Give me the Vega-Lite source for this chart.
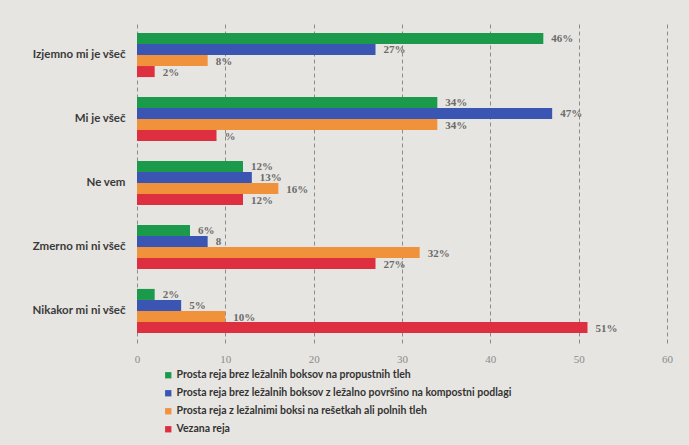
{
  "$schema": "https://vega.github.io/schema/vega-lite/v6.json",
  "width": 530,
  "height": 320,
  "autosize": {"type": "none"},
  "padding": {"left": 137, "top": 23, "right": 22, "bottom": 102},
  "background": "#e7e5e1",
  "config": {
    "view": {"stroke": null},
    "font": "Lato"
  },
  "data": {
    "values": [
      {"cat": "Izjemno mi je všeč", "series": "Prosta reja brez ležalnih boksov na propustnih tleh", "value": 46, "label": "46%"},
      {"cat": "Izjemno mi je všeč", "series": "Prosta reja brez ležalnih boksov z ležalno površino na kompostni podlagi", "value": 27, "label": "27%"},
      {"cat": "Izjemno mi je všeč", "series": "Prosta reja z ležalnimi boksi na rešetkah ali polnih tleh", "value": 8, "label": "8%"},
      {"cat": "Izjemno mi je všeč", "series": "Vezana reja", "value": 2, "label": "2%"},
      {"cat": "Mi je všeč", "series": "Prosta reja brez ležalnih boksov na propustnih tleh", "value": 34, "label": "34%"},
      {"cat": "Mi je všeč", "series": "Prosta reja brez ležalnih boksov z ležalno površino na kompostni podlagi", "value": 47, "label": "47%"},
      {"cat": "Mi je všeč", "series": "Prosta reja z ležalnimi boksi na rešetkah ali polnih tleh", "value": 34, "label": "34%"},
      {"cat": "Mi je všeč", "series": "Vezana reja", "value": 9, "label": "%"},
      {"cat": "Ne vem", "series": "Prosta reja brez ležalnih boksov na propustnih tleh", "value": 12, "label": "12%"},
      {"cat": "Ne vem", "series": "Prosta reja brez ležalnih boksov z ležalno površino na kompostni podlagi", "value": 13, "label": "13%"},
      {"cat": "Ne vem", "series": "Prosta reja z ležalnimi boksi na rešetkah ali polnih tleh", "value": 16, "label": "16%"},
      {"cat": "Ne vem", "series": "Vezana reja", "value": 12, "label": "12%"},
      {"cat": "Zmerno mi ni všeč", "series": "Prosta reja brez ležalnih boksov na propustnih tleh", "value": 6, "label": "6%"},
      {"cat": "Zmerno mi ni všeč", "series": "Prosta reja brez ležalnih boksov z ležalno površino na kompostni podlagi", "value": 8, "label": "8"},
      {"cat": "Zmerno mi ni všeč", "series": "Prosta reja z ležalnimi boksi na rešetkah ali polnih tleh", "value": 32, "label": "32%"},
      {"cat": "Zmerno mi ni všeč", "series": "Vezana reja", "value": 27, "label": "27%"},
      {"cat": "Nikakor mi ni všeč", "series": "Prosta reja brez ležalnih boksov na propustnih tleh", "value": 2, "label": "2%"},
      {"cat": "Nikakor mi ni všeč", "series": "Prosta reja brez ležalnih boksov z ležalno površino na kompostni podlagi", "value": 5, "label": "5%"},
      {"cat": "Nikakor mi ni všeč", "series": "Prosta reja z ležalnimi boksi na rešetkah ali polnih tleh", "value": 10, "label": "10%"},
      {"cat": "Nikakor mi ni všeč", "series": "Vezana reja", "value": 51, "label": "51%"}
    ]
  },
  "encoding": {
    "y": {
      "field": "cat",
      "type": "nominal",
      "sort": null,
      "scale": {"paddingInner": 0.31, "paddingOuter": 0.155},
      "axis": {
        "title": null,
        "domain": false,
        "ticks": false,
        "labelPadding": 12,
        "labelFont": "Lato",
        "labelFontWeight": "bold",
        "labelFontSize": 11.5,
        "labelColor": "#3a3a3a"
      }
    },
    "yOffset": {
      "field": "series",
      "type": "nominal",
      "sort": null,
      "scale": {"paddingInner": 0, "paddingOuter": 0}
    },
    "x": {
      "field": "value",
      "type": "quantitative",
      "scale": {"domain": [0, 60], "nice": false},
      "axis": {
        "title": null,
        "values": [0, 10, 20, 30, 40, 50, 60],
        "domain": false,
        "ticks": false,
        "grid": true,
        "gridColor": "#8c8c8c",
        "gridDash": [4, 3],
        "gridWidth": 1,
        "labelFlush": false,
        "labelPadding": 10,
        "labelFont": "Liberation Serif",
        "labelFontSize": 11,
        "labelColor": "#8a8a8a"
      }
    }
  },
  "layer": [
    {
      "mark": {"type": "bar"},
      "encoding": {
        "color": {
          "field": "series",
          "type": "nominal",
          "sort": null,
          "scale": {
            "range": ["#1c9a4c", "#3b56b2", "#f0923c", "#de2f40"]
          },
          "legend": {
            "title": null,
            "orient": "none",
            "legendX": 26,
            "legendY": 347,
            "direction": "vertical",
            "symbolType": "square",
            "symbolSize": 40,
            "symbolStrokeWidth": 0,
            "labelFont": "Lato",
            "labelFontWeight": "bold",
            "labelFontSize": 10.5,
            "labelColor": "#333333",
            "labelLimit": 500,
            "rowPadding": 7,
            "labelOffset": 3
          }
        }
      }
    },
    {
      "mark": {
        "type": "text",
        "align": "left",
        "baseline": "middle",
        "dx": 8,
        "dy": 1,
        "font": "Liberation Serif",
        "fontSize": 11,
        "fontWeight": "bold",
        "color": "#6a6a6a"
      },
      "encoding": {
        "text": {"field": "label"}
      }
    }
  ]
}
